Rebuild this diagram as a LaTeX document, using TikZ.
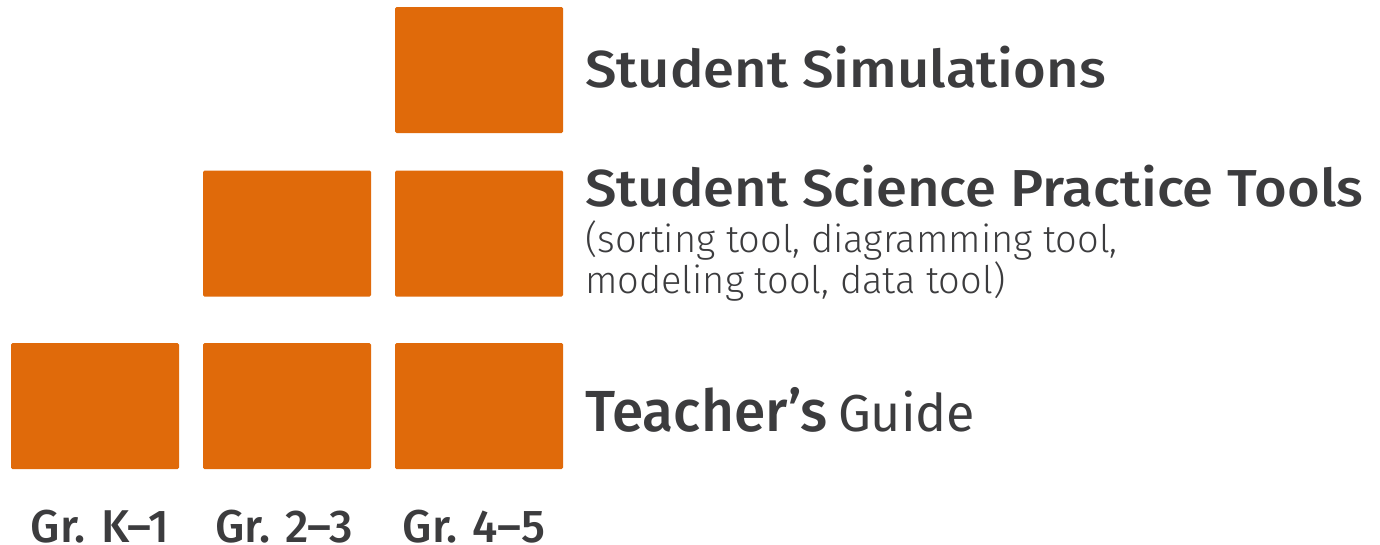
\documentclass[tikz,border=0pt]{standalone}
\usepackage{fontspec}
\setmainfont{Fira Sans}
\newfontfamily\headfont[FakeStretch=1.08]{Fira Sans Medium}
\newfontfamily\guidefont[FakeStretch=0.98]{Fira Sans Medium}
\newfontfamily\labelfont{Fira Sans Medium}
\newfontfamily\lightfont{Fira Sans Light}
\definecolor{boxorange}{HTML}{E06A0A}
\definecolor{inkgray}{HTML}{3C3C3E}
\begin{document}
\begin{tikzpicture}[x=1pt,y=-1pt,
  gradebox/.style={fill=boxorange, draw=none, rounded corners=1.5pt,
    minimum width=168pt, minimum height=126pt, inner sep=0pt},
  heading/.style={anchor=base west, inner sep=0pt, text=inkgray,
    font=\headfont\fontsize{52}{54}\selectfont},
  subnote/.style={anchor=base west, inner sep=0pt, text=inkgray, align=left,
    font=\lightfont\fontsize{38}{38}\selectfont},
  gradelabel/.style={anchor=base, inner sep=0pt, text=inkgray,
    font=\labelfont\fontsize{46}{48}\selectfont}]
  \useasboundingbox (0,0) rectangle (1380,544);

  % top row: simulations for grades 4-5 only
  \node[gradebox] (sim) at (479,70) {};
  % middle row: practice tools for grades 2-3 and 4-5
  \node[gradebox] (tools23) at (287,233.5) {};
  \node[gradebox] (tools45) at (479,233.5) {};
  % bottom row: teacher's guide for all grades
  \node[gradebox] (guideK1) at (95,406) {};
  \node[gradebox] (guide23) at (287,406) {};
  \node[gradebox] (guide45) at (479,406) {};

  % row captions
  \node[heading] (simtext) at (585,87) {Student Simulations};
  \node[heading] (toolstext) at (585,206) {Student Science Practice Tools};
  % anchored on the baseline of the second line
  \node[subnote] (toolsnote) at (585,293) {(sorting tool, diagramming tool,\\modeling tool, data tool)};
  \node[heading, font=\guidefont\fontsize{58}{60}\selectfont] (guidetext) at (585,431)
    {Teacher’s\hspace{-4pt} {\fontspec{Fira Sans}\fontsize{52}{54}\selectfont Guide}};

  % grade band labels
  \node[gradelabel] (gK1) at (100,542) {Gr. K–1};
  \node[gradelabel] (g23) at (284,542) {Gr. 2–3};
  \node[gradelabel] (g45) at (474,542) {Gr. 4–5};
\end{tikzpicture}
\end{document}
